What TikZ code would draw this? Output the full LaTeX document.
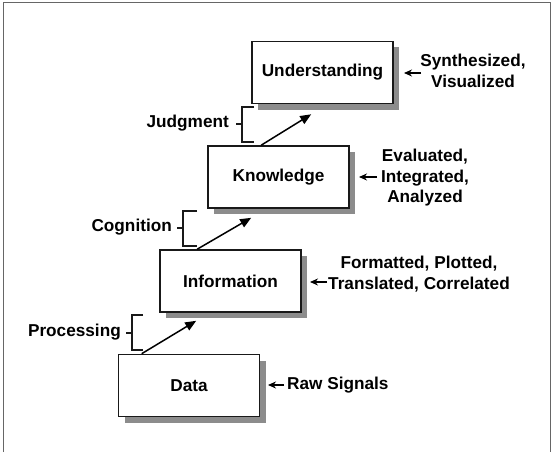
\documentclass[tikz,border=0pt]{standalone}
\usepackage{fontspec}
\setmainfont{Liberation Sans}
\usetikzlibrary{arrows.meta,calc}
\begin{document}
\begin{tikzpicture}[x=1pt,y=-1pt,
  lvl/.style={draw=black!90,line width=1.6pt,fill=white,minimum width=141pt,minimum height=62pt,inner sep=0pt,
    font=\fontsize{17.2}{20}\selectfont\bfseries},
  shadowbox/.style={fill=black!45,draw=none,minimum width=141pt,minimum height=62pt,inner sep=0pt},
  lbl/.style={font=\fontsize{17.2}{20.5}\selectfont\bfseries,inner sep=0pt,align=center},
  uparrow/.style={line width=1.5pt,-{Triangle[length=11pt,width=9pt]}},
  sidearrow/.style={line width=1.5pt,-{Stealth[length=8pt,width=7pt]}},
  brk/.style={line width=1.5pt,black!90}]
\useasboundingbox (0,0) rectangle (556,452);
\draw[black!60,line width=1pt] (3,452) -- (3,3) -- (550,3) -- (550,452);
% shadows
\node[shadowbox] (Us) at (328.5,78.5) {};
\node[shadowbox] (Ks) at (284.5,183) {};
\node[shadowbox] (Is) at (236.5,287) {};
\node[shadowbox] (Ds) at (195,391.5) {};
% boxes
\node[lvl] (U) at (322.5,72.5) {Understanding};
\node[lvl] (K) at (278.5,177) {Knowledge};
\node[lvl] (I) at (230.5,281) {Information};
\node[lvl] (D) at (189,385.5) {Data};
% up arrows
\coordinate (d1) at ($(D.north west)+(24,0)$);
\coordinate (i2) at ($(I.south west)+(37,8)$);
\coordinate (i1) at ($(I.north west)+(38,0)$);
\coordinate (k2) at ($(K.south west)+(44,9)$);
\coordinate (k1) at ($(K.north west)+(54,0)$);
\coordinate (u2) at ($(U.south west)+(60,10)$);
\draw[uparrow] (d1) -- (i2);
\draw[uparrow] (i1) -- (k2);
\draw[uparrow] (k1) -- (u2);
% brackets
\draw[brk] (143,315) -- (132,315) -- (132,350) -- (143,350);
\draw[brk] (126,333) -- (132,333);
\draw[brk] (197,211) -- (183,211) -- (183,246) -- (197,246);
\draw[brk] (177,228) -- (183,228);
\draw[brk] (254,107) -- (242,107) -- (242,142) -- (254,142);
\draw[brk] (236,124) -- (242,124);
% left labels
\node[lbl,anchor=east] (proc) at (121,332) {Processing};
\node[lbl,anchor=east] (cogn) at (172,227) {Cognition};
\node[lbl,anchor=east] (judg) at (229,123) {Judgment};
% right labels
\node[lbl] (ul) at (473,71) {Synthesized,\\Visualized};
\node[lbl] (kl) at (425,178) {Evaluated,\\Integrated,\\Analyzed};
\node[lbl] (il) at (419,274) {Formatted, Plotted,\\Translated, Correlated};
\node[lbl,anchor=west] (dl) at (287,385) {Raw Signals};
\coordinate (ua) at (421,73); \coordinate (ub) at (404,73);
\coordinate (ka) at (377,177); \coordinate (kb) at (359,177);
\coordinate (ia) at (327,282); \coordinate (ib) at (310,282);
\coordinate (da) at (284,385); \coordinate (db) at (268,385);
\draw[sidearrow] (ua) -- (ub);
\draw[sidearrow] (ka) -- (kb);
\draw[sidearrow] (ia) -- (ib);
\draw[sidearrow] (da) -- (db);
\end{tikzpicture}
\end{document}
